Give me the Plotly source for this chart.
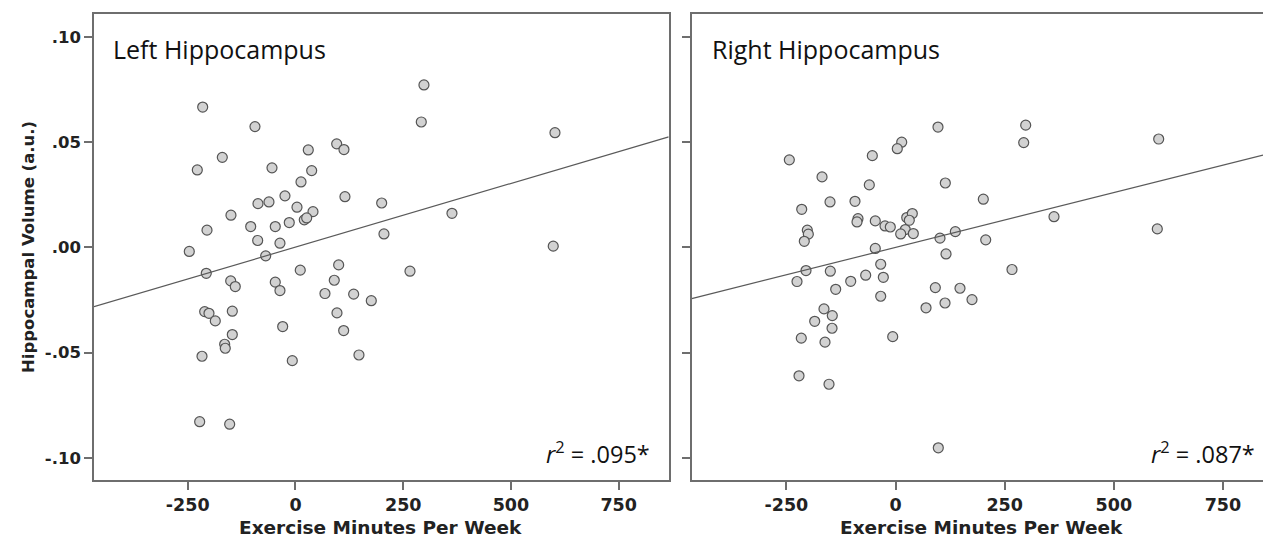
import plotly.graph_objects as go

# ---- data ----
left_x = [-215.3, -94.0, 95.6, 112.5, 29.7, -169.8, -227.8, -54.5, 37.6, 12.8,
          -24.4, 114.8, 200.0, -87.0, -61.5, 3.5, 40.6, 20.4, 26.0, -149.7,
          -14.4, -46.9, -103.9, -205.3, 205.3, -87.7, -36.0, -246.4, 298.1, 291.9,
          602.1, 363.1, 598.1, -69.1, -207.0, 11.1, 100.2, -150.3, -139.7, -46.9,
          -36.0, 90.0, 68.4, 135.0, 175.9, -210.7, -200.7, -186.1, -146.6, 96.3,
          -29.7, -146.6, 111.8, -164.3, -162.9, -216.9, -7.4, 147.3, -222.3, -152.7,
          265.7]
left_y = [0.0667, 0.0574, 0.0492, 0.0465, 0.0463, 0.0428, 0.0368, 0.0378, 0.0365, 0.0311,
          0.0245, 0.0241, 0.0211, 0.0208, 0.0216, 0.0191, 0.0170, 0.0131, 0.0140, 0.0153,
          0.0118, 0.0099, 0.0099, 0.0082, 0.0064, 0.0033, 0.0020, -0.0019, 0.0772, 0.0596,
          0.0545, 0.0162, 0.0006, -0.0040, -0.0123, -0.0108, -0.0083, -0.0159, -0.0186, -0.0165,
          -0.0205, -0.0156, -0.0219, -0.0222, -0.0253, -0.0305, -0.0313, -0.0349, -0.0303, -0.0311,
          -0.0376, -0.0414, -0.0395, -0.0460, -0.0479, -0.0517, -0.0538, -0.0511, -0.0828, -0.0840,
          -0.0113]

right_x = [97.3, 14.2, 4.1, -243.2, -53.1, -168.3, -60.0, 114.1, -150.0, -92.8,
           -214.8, -85.9, -88.2, -46.3, -24.0, -11.9, 25.7, 38.5, 22.4, 11.9,
           40.8, -202.0, -199.7, -208.9, -46.3, 101.9, 137.0, 298.2, 293.6, 602.8,
           201.1, 363.0, 206.6, 599.6, 115.7, -205.0, -225.6, -149.3, -137.0, -102.6,
           -68.3, -33.9, -27.9, -33.9, 91.2, 147.7, 175.2, 69.9, 113.4, -163.8,
           -144.8, -185.1, -145.4, -215.8, -161.5, -6.4, -221.0, -152.3, 98.0, 266.8,
           31.6]
right_y = [0.0572, 0.0500, 0.0469, 0.0416, 0.0436, 0.0335, 0.0297, 0.0306, 0.0216, 0.0219,
           0.0181, 0.0137, 0.0121, 0.0126, 0.0102, 0.0097, 0.0142, 0.0161, 0.0085, 0.0064,
           0.0066, 0.0082, 0.0063, 0.0029, -0.0005, 0.0044, 0.0075, 0.0581, 0.0498, 0.0515,
           0.0229, 0.0146, 0.0036, 0.0088, -0.0031, -0.0110, -0.0162, -0.0113, -0.0199, -0.0161,
           -0.0132, -0.0080, -0.0142, -0.0232, -0.0191, -0.0194, -0.0248, -0.0287, -0.0264, -0.0292,
           -0.0324, -0.0351, -0.0384, -0.0431, -0.0450, -0.0424, -0.0610, -0.0650, -0.0952, -0.0105,
           0.0129]

# fitted lines (intercept, slope)
left_fit = (0.00015, 6.05e-5)
right_fit = (0.0, 5.21e-5)

panel_titles = ["Left Hippocampus", "Right Hippocampus"]
r2_labels = ["<i>r</i><sup>2</sup> = .095*", "<i>r</i><sup>2</sup> = .087*"]

x_ticks = [-250, 0, 250, 500, 750]
x_ticktext = ["-250", "0", "250", "500", "750"]
y_ticks = [0.10, 0.05, 0.0, -0.05, -0.10]
y_ticktext = [".10", ".05", ".00", "-.05", "-.10"]

x_title = "Exercise Minutes Per Week"
y_title = "Hippocampal Volume (a.u.)"

# ---- layout constants ----
W, H = 1263, 544
left_range = [-467.5, 866]
right_range = [-466.8, 841.7]
y_range = [-0.1105, 0.1109]

fig = go.Figure()

marker = dict(size=10, color="#d2d2d2", line=dict(color="#555555", width=1.2))
line_style = dict(color="#5a5a5a", width=1.2)

fig.add_trace(go.Scatter(x=left_x, y=left_y, mode="markers", marker=marker,
                         xaxis="x", yaxis="y", showlegend=False))
fig.add_trace(go.Scatter(x=right_x, y=right_y, mode="markers", marker=marker,
                         xaxis="x2", yaxis="y2", showlegend=False))

for rng, fit, xa, ya in [(left_range, left_fit, "x", "y"), (right_range, right_fit, "x2", "y2")]:
    xs = list(rng)
    ys = [fit[0] + fit[1] * v for v in xs]
    fig.add_trace(go.Scatter(x=xs, y=ys, mode="lines", line=line_style,
                             xaxis=xa, yaxis=ya, showlegend=False, hoverinfo="skip"))

xtick_font = dict(family="DejaVu Sans", size=17.5, color="#222222", weight="bold")
ytick_font = dict(family="DejaVu Sans", size=16.5, color="#222222", weight="bold")
frame = dict(showline=True, linecolor="#6e6e6e", linewidth=1.5, ticks="outside",
             ticklen=8, tickwidth=1.5, tickcolor="#6e6e6e", showgrid=False,
             zeroline=False)

fig.update_layout(
    width=W, height=H,
    margin=dict(l=0, r=0, t=14, b=64),
    paper_bgcolor="white", plot_bgcolor="white",
    xaxis=dict(domain=[94 / W, 668.7 / W], range=left_range, tickvals=x_ticks,
               ticktext=x_ticktext, mirror=True, anchor="y", tickfont=xtick_font, **frame),
    yaxis=dict(domain=[0, 1], range=y_range, tickvals=y_ticks, ticktext=y_ticktext,
               mirror=True, anchor="x", tickfont=ytick_font, **frame),
    xaxis2=dict(domain=[691.7 / W, 1.0], range=right_range, tickvals=x_ticks,
                ticktext=x_ticktext, mirror=True, anchor="y2", tickfont=xtick_font, **frame),
    yaxis2=dict(domain=[0, 1], range=y_range, tickvals=y_ticks, ticktext=y_ticktext,
                mirror=False, anchor="x2", showticklabels=False, tickfont=ytick_font, **frame),
    hovermode=False,
)

label_font = dict(family="Open Sans", size=25, color="#111111")
ann = []
for i, (xr, yr) in enumerate([("x domain", "y domain"), ("x2 domain", "y2 domain")]):
    ann.append(dict(text=panel_titles[i], xref=xr, yref=yr,
                    x=0.029 if i == 0 else 0.032, y=0.925, xanchor="left", yanchor="middle",
                    showarrow=False, font=label_font))
    ann.append(dict(text=r2_labels[i], xref=xr, yref=yr,
                    x=0.971 if i == 0 else 0.990, y=0.06, xanchor="right", yanchor="middle",
                    showarrow=False, font=dict(family="Open Sans", size=23.5, color="#111111")))

title_font = dict(family="DejaVu Sans", size=18.5, color="#222222", weight="bold")
ann.append(dict(text=x_title, xref="paper", yref="paper", x=380 / W, y=-0.103,
                xanchor="center", yanchor="middle", showarrow=False, font=title_font))
ann.append(dict(text=x_title, xref="paper", yref="paper", x=981 / W, y=-0.103,
                xanchor="center", yanchor="middle", showarrow=False, font=title_font))
ann.append(dict(text=y_title, xref="paper", yref="paper", x=28 / W, y=0.5,
                xanchor="center", yanchor="middle", textangle=-90, showarrow=False,
                font=dict(family="DejaVu Sans", size=16.5, color="#222222", weight="bold")))
fig.update_layout(annotations=ann)

fig.write_html("out.html")
